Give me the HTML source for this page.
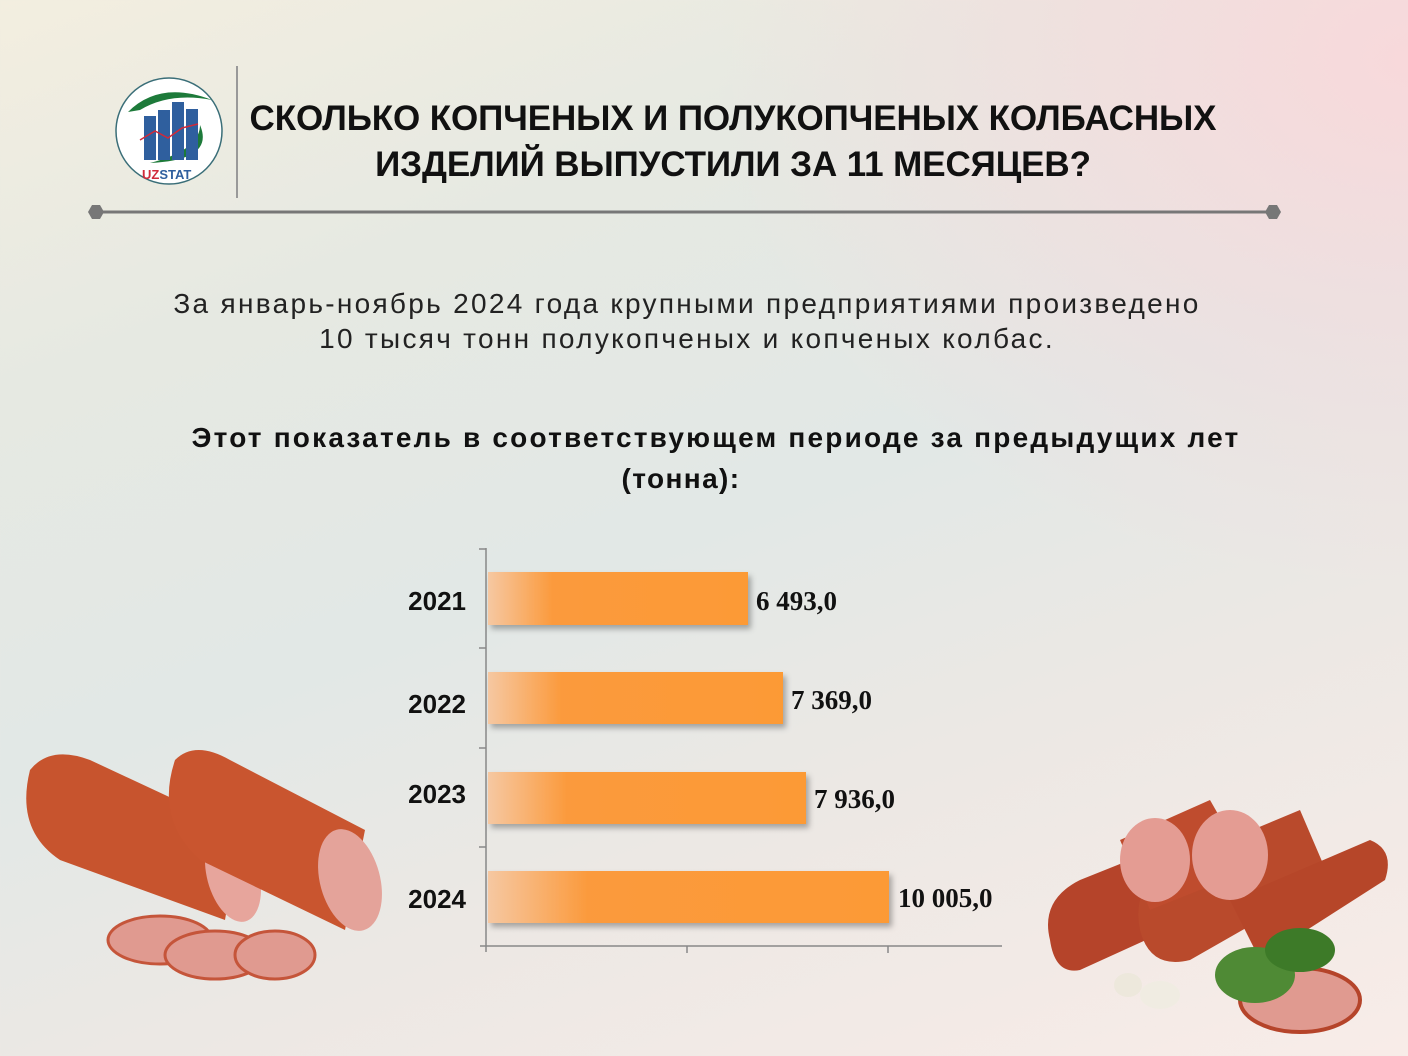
<!DOCTYPE html>
<html><head><meta charset="utf-8"><style>
html,body{margin:0;padding:0}
body{width:1408px;height:1056px;position:relative;overflow:hidden;font-family:"Liberation Sans","DejaVu Sans",sans-serif;
background:linear-gradient(160deg,#f3eee0 0%,#e6e9e2 25%,#e2e8e6 50%,#ece8e4 70%,#f8ece8 100%);}
.pink{position:absolute;right:0;top:0;width:700px;height:600px;background:radial-gradient(ellipse at 100% 10%,rgba(250,215,218,.9),rgba(250,215,218,0) 70%)}
.t{position:absolute;left:0;width:1408px;text-align:center}
</style></head><body>
<div class="pink"></div>
<svg width="1408" height="1056" style="position:absolute;left:0;top:0">
<circle cx="169" cy="131" r="53" fill="#fff" stroke="#3a6e78" stroke-width="1.5"/>
<path d="M128 112 Q160 80 212 100 Q170 92 140 110 Z" fill="#1d7a3a"/>
<path d="M200 125 Q215 160 150 163 Q200 150 200 125Z" fill="#1d7a3a"/>
<rect x="144" y="116" width="12" height="44" fill="#2f5f9e"/>
<rect x="158" y="110" width="12" height="50" fill="#2f5f9e"/>
<rect x="172" y="102" width="12" height="58" fill="#2f5f9e"/>
<rect x="186" y="109" width="12" height="51" fill="#2f5f9e"/>
<polyline points="140,140 155,131 168,138 182,128 198,124" fill="none" stroke="#d02a3a" stroke-width="1.5"/>
<text x="142" y="179" font-size="13" font-weight="bold" fill="#d02a3a">UZ<tspan fill="#2f5f9e">STAT</tspan></text>
<line x1="237" y1="66" x2="237" y2="198" stroke="#999" stroke-width="2"/>
<line x1="96" y1="212" x2="1274" y2="212" stroke="#777" stroke-width="3"/>
<polygon points="88,212 92,205 100,205 104,212 100,219 92,219" fill="#777"/>
<polygon points="1265,212 1269,205 1277,205 1281,212 1277,219 1269,219" fill="#777"/>
<defs><linearGradient id="g" x1="0" x2="1"><stop offset="0" stop-color="#f6c8a2"/><stop offset=".25" stop-color="#fb9a3c"/><stop offset="1" stop-color="#fc9a36"/></linearGradient>
<filter id="s"><feDropShadow dx="3" dy="4" stdDeviation="3" flood-color="#000" flood-opacity=".3"/></filter></defs>
<line x1="486" y1="548" x2="486" y2="952" stroke="#888" stroke-width="1.5"/>
<line x1="480" y1="946" x2="1002" y2="946" stroke="#888" stroke-width="1.5"/>
<g stroke="#888" stroke-width="1.5"><line x1="479" y1="549" x2="486" y2="549"/><line x1="479" y1="648" x2="486" y2="648"/><line x1="479" y1="748" x2="486" y2="748"/><line x1="479" y1="847" x2="486" y2="847"/><line x1="687" y1="946" x2="687" y2="953"/><line x1="888" y1="946" x2="888" y2="953"/></g>
<g filter="url(#s)" fill="url(#g)">
<rect x="488" y="572" width="260" height="53"/><rect x="488" y="672" width="295" height="52"/>
<rect x="488" y="772" width="318" height="52"/><rect x="488" y="871" width="401" height="52"/></g>
<g font-family="Liberation Serif,serif" font-weight="bold" font-size="27" fill="#111">
<text x="756" y="610">6 493,0</text><text x="791" y="709">7 369,0</text><text x="814" y="808">7 936,0</text><text x="898" y="907">10 005,0</text></g>
<g font-weight="bold" font-size="26" fill="#111" text-anchor="end">
<text x="466" y="610">2021</text><text x="466" y="713">2022</text><text x="466" y="803">2023</text><text x="466" y="908">2024</text></g>
<g>
<path d="M30 770 Q50 745 90 760 L240 830 L225 920 L60 860 Q15 830 30 770Z" fill="#c7542e"/>
<ellipse cx="233" cy="875" rx="26" ry="48" fill="#e7a59c" transform="rotate(-15 233 875)"/>
<path d="M175 760 Q195 740 230 760 L365 830 L345 930 L200 860 Q155 820 175 760Z" fill="#c9552f"/>
<ellipse cx="350" cy="880" rx="30" ry="52" fill="#e4a39a" transform="rotate(-15 350 880)"/>
<ellipse cx="160" cy="940" rx="52" ry="24" fill="#e09a90" stroke="#c5553a" stroke-width="3"/>
<ellipse cx="215" cy="955" rx="50" ry="24" fill="#e09a90" stroke="#c5553a" stroke-width="3"/>
<ellipse cx="275" cy="955" rx="40" ry="24" fill="#e09a90" stroke="#c5553a" stroke-width="3"/>
</g>
<g>
<path d="M1050 940 Q1040 900 1080 880 L1180 840 L1190 920 L1080 970 Q1055 975 1050 940Z" fill="#b5442a"/>
<path d="M1140 930 Q1130 880 1180 860 L1300 810 L1330 880 L1190 960 Q1150 970 1140 930Z" fill="#b94a2c"/>
<path d="M1230 900 L1370 840 Q1395 850 1385 880 L1260 960Z" fill="#b64629"/>
<path d="M1120 840 L1210 800 L1250 870 L1150 910Z" fill="#bf4c2e"/>
<ellipse cx="1155" cy="860" rx="35" ry="42" fill="#e49c93"/>
<ellipse cx="1230" cy="855" rx="38" ry="45" fill="#e49c93"/>
<ellipse cx="1300" cy="1000" rx="60" ry="32" fill="#e09a90" stroke="#b5442a" stroke-width="4"/>
<ellipse cx="1255" cy="975" rx="40" ry="28" fill="#4f8a35"/>
<ellipse cx="1300" cy="950" rx="35" ry="22" fill="#3d7a28"/>
<ellipse cx="1160" cy="995" rx="20" ry="14" fill="#f0ece2"/>
<ellipse cx="1128" cy="985" rx="14" ry="12" fill="#ede8dc"/>
</g>
</svg>
<div class="t" style="top:96px;font-size:35px;font-weight:bold;letter-spacing:-0.1px;line-height:46px;color:#111;left:29px">СКОЛЬКО КОПЧЕНЫХ И ПОЛУКОПЧЕНЫХ КОЛБАСНЫХ<br>ИЗДЕЛИЙ ВЫПУСТИЛИ ЗА 11 МЕСЯЦЕВ?</div>
<div class="t" style="top:286px;font-size:28px;letter-spacing:2.3px;line-height:35px;color:#222;left:-17px">За январь-ноябрь 2024 года крупными предприятиями произведено<br>10 тысяч тонн полукопченых и копченых колбас.</div>
<div class="t" style="top:417px;font-size:28px;letter-spacing:2.2px;line-height:41px;font-weight:bold;color:#111;left:12px">Этот показатель в соответствующем периоде за предыдущих лет</div>
<div class="t" style="top:458px;font-size:28px;letter-spacing:1.4px;line-height:41px;font-weight:bold;color:#111;left:-23px">(тонна):</div>
</body></html>
